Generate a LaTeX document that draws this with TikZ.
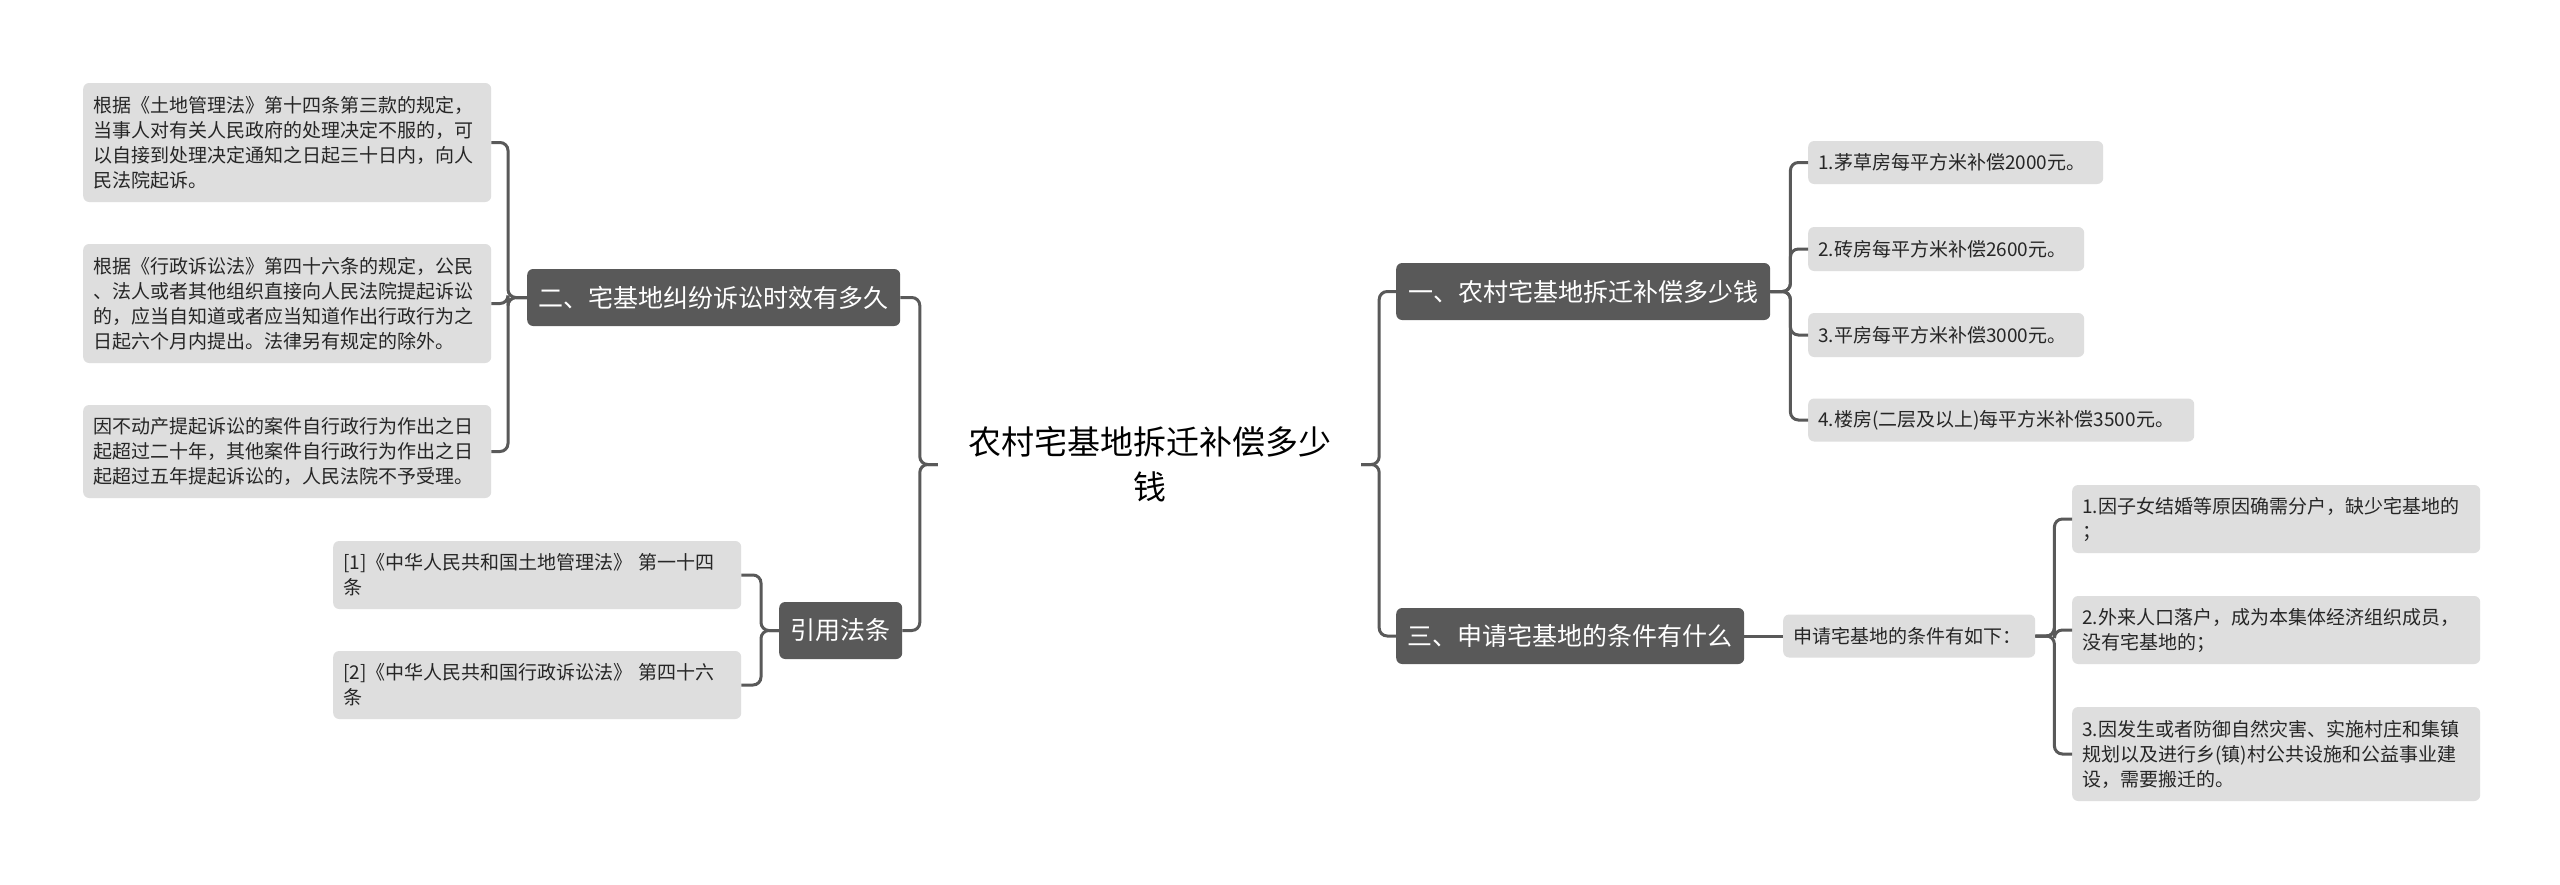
\documentclass[tikz,border=0pt]{standalone}
\usepackage{fontspec}
\setmainfont{Noto Sans CJK SC}
\definecolor{linec}{HTML}{595959}
\definecolor{darkc}{HTML}{595959}
\definecolor{leafc}{HTML}{DEDEDE}
\definecolor{textc}{HTML}{262626}
\begin{document}
\begin{tikzpicture}[x=1pt,y=-1pt,
  conn/.style={draw=linec, line width=3pt, rounded corners=8pt},
  leaf/.style={fill=leafc, rounded corners=6pt, inner xsep=10pt, inner ysep=0pt, anchor=west, align=left, font=\fontsize{19}{25}\selectfont, text=textc},
  topic/.style={fill=darkc, rounded corners=6pt, inner sep=0pt, anchor=west, text=white, font=\fontsize{25}{30}\selectfont, align=center}]
\useasboundingbox (0,0) rectangle (2560,884);
\fill[white] (0,0) rectangle (2560,884);

% centre
\node[font=\fontsize{33}{45}\selectfont, align=center, minimum width=423pt, inner sep=0pt, text=black] (C) at (1149.5,464.5) {农村宅基地拆迁补偿多少\\钱};

% left branch 1
\node[topic, minimum width=373pt, minimum height=57pt] (B2) at (527,297.5) {二、宅基地纠纷诉讼时效有多久};
\node[leaf, text width=388pt, minimum height=119pt] (L1) at (83,142.5) {根据《土地管理法》第十四条第三款的规定，\\当事人对有关人民政府的处理决定不服的，可\\以自接到处理决定通知之日起三十日内，向人\\民法院起诉。};
\node[leaf, text width=388pt, minimum height=119pt] (L2) at (83,303.5) {根据《行政诉讼法》第四十六条的规定，公民\\、法人或者其他组织直接向人民法院提起诉讼\\的，应当自知道或者应当知道作出行政行为之\\日起六个月内提出。法律另有规定的除外。};
\node[leaf, text width=388pt, minimum height=93pt] (L3) at (83,451.5) {因不动产提起诉讼的案件自行政行为作出之日\\起超过二十年，其他案件自行政行为作出之日\\起超过五年提起诉讼的，人民法院不予受理。};

% left branch 2
\node[topic, minimum width=123pt, minimum height=57pt] (BR) at (779,630.5) {引用法条};
\node[leaf, text width=388pt, minimum height=68pt] (C1) at (333,575) {[1]《中华人民共和国土地管理法》 第一十四\\条};
\node[leaf, text width=388pt, minimum height=68pt] (C2) at (333,685) {[2]《中华人民共和国行政诉讼法》 第四十六\\条};

% right branch 1
\node[topic, minimum width=374pt, minimum height=57pt] (B1) at (1396,291.5) {一、农村宅基地拆迁补偿多少钱};
\node[leaf, text width=275pt, minimum height=43pt] (R1) at (1808,162.5) {1.茅草房每平方米补偿2000元。};
\node[leaf, text width=256pt, minimum height=44pt] (R2) at (1808,249) {2.砖房每平方米补偿2600元。};
\node[leaf, text width=256pt, minimum height=44pt] (R3) at (1808,335) {3.平房每平方米补偿3000元。};
\node[leaf, text width=366pt, minimum height=43pt] (R4) at (1808,420) {4.楼房(二层及以上)每平方米补偿3500元。};

% right branch 2
\node[topic, minimum width=348pt, minimum height=56pt] (B3) at (1396,636) {三、申请宅基地的条件有什么};
\node[leaf, text width=232pt, minimum height=43pt] (Q) at (1783,636) {申请宅基地的条件有如下：};
\node[leaf, text width=388pt, minimum height=68pt] (S1) at (2072,519) {1.因子女结婚等原因确需分户，缺少宅基地的\\；};
\node[leaf, text width=388pt, minimum height=68pt] (S2) at (2072,630) {2.外来人口落户，成为本集体经济组织成员，\\没有宅基地的；};
\node[leaf, text width=388pt, minimum height=94pt] (S3) at (2072,754) {3.因发生或者防御自然灾害、实施村庄和集镇\\规划以及进行乡(镇)村公共设施和公益事业建\\设，需要搬迁的。};

% connectors
\draw[conn] (C.west) -- ++(-18,0) |- (B2.east);
\draw[conn] (C.west) -- ++(-18,0) |- (BR.east);
\draw[conn] (C.east) -- ++(18,0) |- (B1.west);
\draw[conn] (C.east) -- ++(18,0) |- (B3.west);

\foreach \t in {L1,L2,L3} \draw[conn] (B2.west) -- ++(-19,0) |- (\t.east);
\foreach \t in {C1,C2} \draw[conn] (BR.west) -- ++(-18,0) |- (\t.east);
\foreach \t in {R1,R2,R3,R4} \draw[conn] (B1.east) -- ++(20,0) |- (\t.west);
\draw[conn] (B3.east) -- (Q.west);
\foreach \t in {S1,S2,S3} \draw[conn] (Q.east) -- ++(19,0) |- (\t.west);
\end{tikzpicture}
\end{document}
